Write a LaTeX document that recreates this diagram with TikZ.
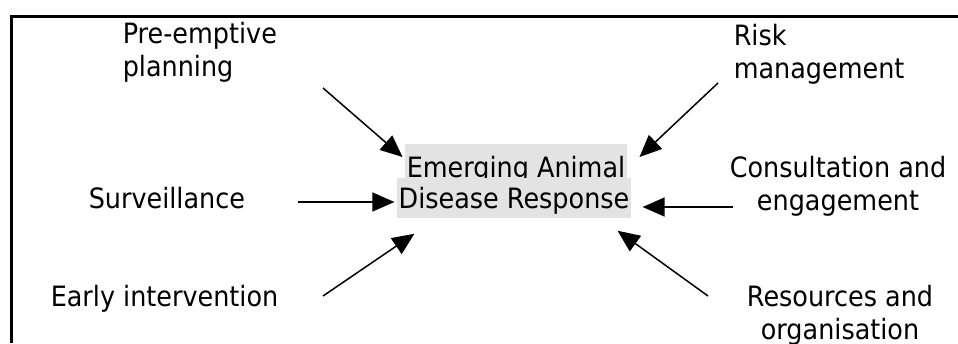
\documentclass[tikz,border=0pt]{standalone}
\usepackage{fontspec}
\setmainfont{DejaVu Sans}[FakeStretch=0.91]
\usepackage{tikz}
\usetikzlibrary{arrows.meta}
\definecolor{hubgray}{RGB}{227,227,227}

\begin{document}
\begin{tikzpicture}[x=1pt,y=-1pt,->,>={Triangle[length=22pt,width=19pt]},line width=1.5pt]
  \tikzstyle{factor}=[inner sep=0pt,align=left,font=\fontsize{28}{32.5}\selectfont]
  \tikzstyle{hub}=[fill=hubgray,inner ysep=0pt,inner xsep=1.5pt,anchor=base,font=\fontsize{28}{32.5}\selectfont]

  \useasboundingbox (0,0) rectangle (958,343);
  \draw[-,line width=3pt] (11.5,343) -- (11.5,16.5) -- (958,16.5);

  % the response in the middle
  \node[hub,text height=33pt,text depth=1pt]  (em) at (516,177) {Emerging Animal};
  \node[hub,text height=30pt,text depth=10pt] (dr) at (514,208) {Disease Response};

  % what feeds into it
  \node[factor,anchor=north west]         (pre)   at (122,21.7)  {Pre-emptive\\planning};
  \node[factor,anchor=north west]         (risk)  at (733,23.7)  {Risk\\management};
  \node[factor,anchor=north,align=center] (cons)  at (838,155.7) {Consultation and\\engagement};
  \node[factor,anchor=base west]          (surv)  at (88,208)    {Surveillance};
  \node[factor,anchor=base west]          (early) at (50,306)    {Early intervention};
  \node[factor,anchor=north,align=center] (res)   at (840,284.7) {Resources and\\organisation};

  \coordinate (preT)   at (323,88);
  \coordinate (riskT)  at (718,83);
  \coordinate (survT)  at (298,202);
  \coordinate (consT)  at (733,207);
  \coordinate (earlyT) at (323,296);
  \coordinate (resT)   at (708,296);

  \draw (preT)   -- ([xshift=-2pt,yshift=4pt]em.west);
  \draw (riskT)  -- ([xshift=12pt,yshift=4pt]em.east);
  \draw (survT)  -- ([xshift=-2pt,yshift=-4pt]dr.west);
  \draw (consT)  -- ([xshift=11pt,yshift=-9pt]dr.east);
  \draw (earlyT) -- ([xshift=18pt,yshift=-15pt]dr.south west);
  \draw (resT)   -- ([xshift=-14pt,yshift=-12pt]dr.south east);
\end{tikzpicture}
\end{document}
